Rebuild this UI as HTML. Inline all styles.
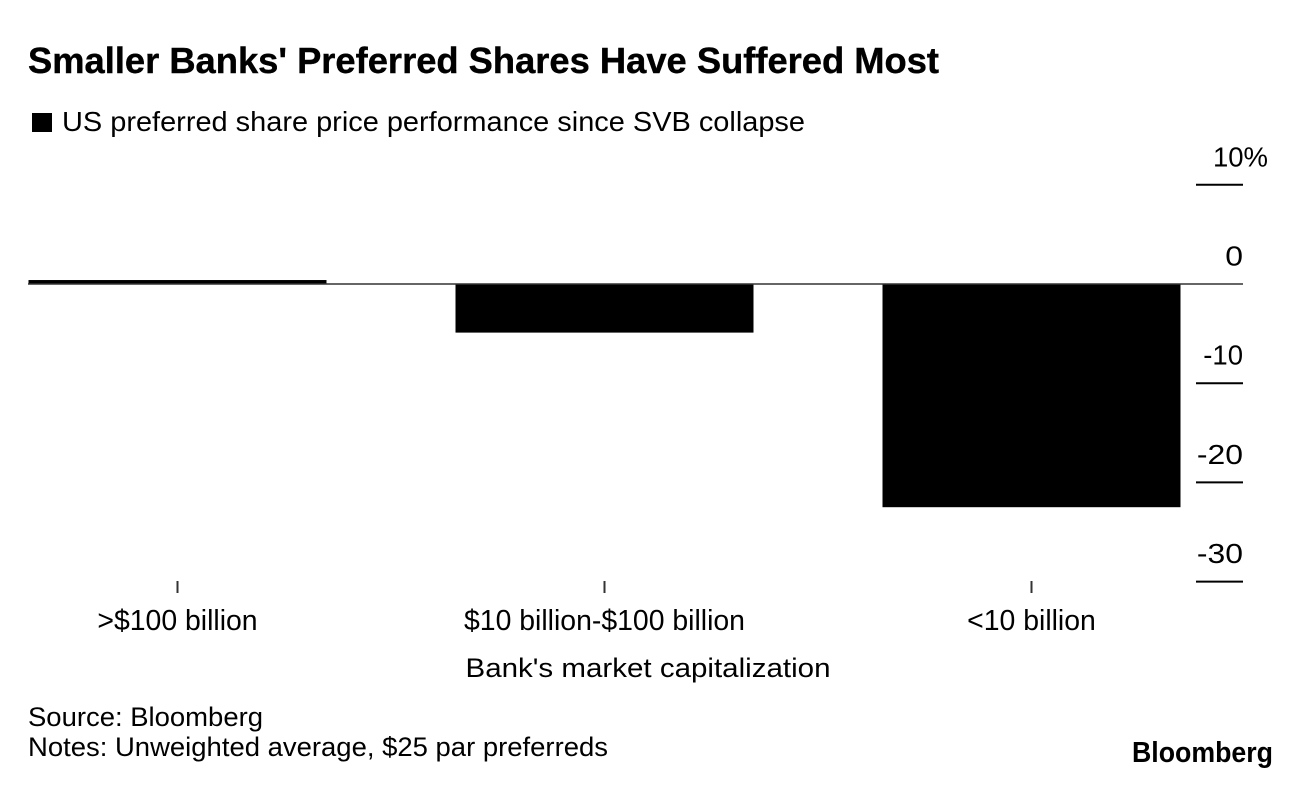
<!DOCTYPE html>
<html>
<head>
<meta charset="utf-8">
<style>
html,body{margin:0;padding:0;background:#fff;}
svg{display:block;}
text{font-family:"Liberation Sans",Arial,sans-serif;fill:#000;}
</style>
</head>
<body>
<svg id="chart" xmlns="http://www.w3.org/2000/svg" width="1296" height="786" viewBox="0 0 1296 786">
  <rect x="0" y="0" width="1296" height="786" fill="#fff"/>
  <text x="28" y="73" font-size="36.5" font-weight="700" stroke="#000" stroke-width="0.4" textLength="911" lengthAdjust="spacingAndGlyphs">Smaller Banks' Preferred Shares Have Suffered Most</text>
  <rect x="32" y="113" width="20" height="19" fill="#000"/>
  <text x="62" y="131" font-size="28" textLength="743" lengthAdjust="spacingAndGlyphs">US preferred share price performance since SVB collapse</text>
  <g id="bars"></g>
  <g id="y-axis"></g>
  <g id="x-axis"></g>
  <text x="648" y="677" font-size="27" text-anchor="middle" textLength="365" lengthAdjust="spacingAndGlyphs">Bank's market capitalization</text>
  <text x="28" y="726" font-size="26.5" textLength="235" lengthAdjust="spacingAndGlyphs">Source: Bloomberg</text>
  <text x="28" y="756" font-size="26.5" textLength="580" lengthAdjust="spacingAndGlyphs">Notes: Unweighted average, $25 par preferreds</text>
  <text x="1132" y="762" font-size="28.5" font-weight="700" textLength="141" lengthAdjust="spacingAndGlyphs">Bloomberg</text>
</svg>
<script>
var categories = [">$100 billion", "$10 billion-$100 billion", "<10 billion"];
var seriesValues = [0.4, -4.9, -22.5];
var yTicks = [10, 0, -10, -20, -30];
var yTickLabels = ["10%", "0", "-10", "-20", "-30"];

var NS = "http://www.w3.org/2000/svg";
function yScale(v) { return 284 - v * 9.92; }
var bandCenters = 427;
function xCenter(i) { return 177.5 + i * bandCenters; }
var barWidth = 298;

function make(tag, attrs, parent) {
  var el = document.createElementNS(NS, tag);
  for (var k in attrs) { el.setAttribute(k, attrs[k]); }
  parent.appendChild(el);
  return el;
}

var barsG = document.getElementById("bars");
var yG = document.getElementById("y-axis");
var xG = document.getElementById("x-axis");

seriesValues.forEach(function (v, i) {
  var y0 = yScale(0), y1 = yScale(v);
  var r = make("rect", {
    x: xCenter(i) - barWidth / 2,
    y: Math.min(y0, y1),
    width: barWidth,
    height: Math.abs(y1 - y0),
    fill: "#000"
  }, barsG);
  
  
});

var zero = make("line", { x1: 28, x2: 1243, y1: yScale(0), y2: yScale(0), stroke: "#333", "stroke-width": 1.6 }, yG);



yTicks.forEach(function (t, i) {
  var y = yScale(t);
  if (t !== 0) {
    var l = make("line", { x1: 1196, x2: 1243, y1: y, y2: y, stroke: "#000", "stroke-width": 2 }, yG);
    
    
  }
  var isTop = i === 0;
  var tx = make("text", { x: isTop ? 1268 : 1243, y: y - 18.5, "font-size": 27.5, "text-anchor": "end" }, yG);
  tx.textContent = yTickLabels[i];
  
  
  var hasNarrowOne = yTickLabels[i].indexOf("1") >= 0;
  if (!hasNarrowOne) {
    tx.setAttribute('lengthAdjust', 'spacingAndGlyphs');
    tx.setAttribute('textLength', tx.getComputedTextLength() * 1.16);
  }
});

categories.forEach(function (c, i) {
  var cx = xCenter(i);
  var l = make("line", { x1: cx, x2: cx, y1: 581, y2: 593, stroke: "#333", "stroke-width": 2 }, xG);
  
  
  var tx = make("text", { x: cx, y: 630, "font-size": 28.4, "text-anchor": "middle" }, xG);
  tx.textContent = c;
  
  
});
</script>
</body>
</html>
